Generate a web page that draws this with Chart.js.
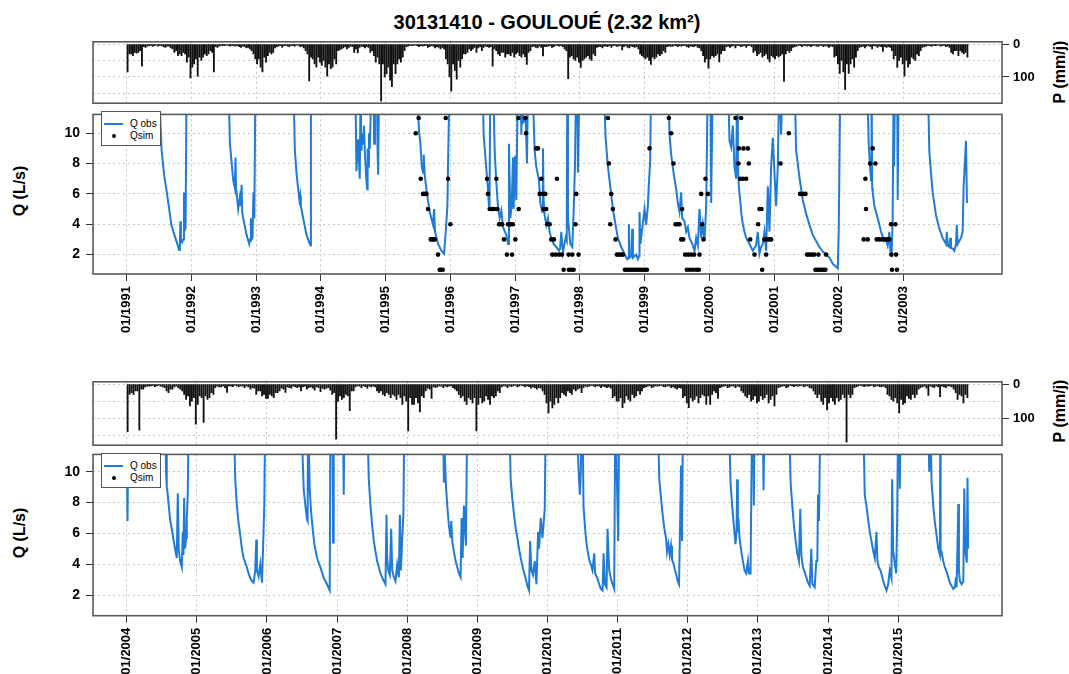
<!DOCTYPE html>
<html><head><meta charset="utf-8">
<script src="https://cdn.jsdelivr.net/npm/chart.js@4/dist/chart.umd.min.js"></script>
<style>
html,body{margin:0;padding:0;background:#fff}
body{width:1069px;height:674px;position:relative;overflow:hidden;font-family:"Liberation Sans",Arial,sans-serif}
canvas{position:absolute;left:0}
.tt{position:absolute;font-weight:bold;white-space:nowrap;color:#000}
.rot{transform:translate(-50%,-50%) rotate(-90deg)}
.legend{position:absolute;width:58px;height:33px;border:1.5px solid #555;background:#fff;font-size:10px;z-index:5}
.legend .ln{position:absolute;left:2px;top:11px;width:19px;height:1.5px;background:#1f7bd6}
.legend .dot{position:absolute;left:10px;top:22px;width:4px;height:4px;border-radius:50%;background:#000}
.legend .l1{position:absolute;left:28px;top:6px;line-height:12px}
.legend .l2{position:absolute;left:28px;top:18px;line-height:12px}
</style></head>
<body>
<div class="tt" style="left:547px;top:22px;transform:translate(-50%,-50%);font-size:20px">30131410 - GOULOUÉ (2.32 km²)</div>
<div class="tt rot" style="left:20px;top:191px;font-size:16px">Q (L/s)</div>
<div class="tt rot" style="left:20px;top:533px;font-size:16px">Q (L/s)</div>
<div class="tt rot" style="left:1060px;top:72px;font-size:16px">P (mm/j)</div>
<div class="tt rot" style="left:1060px;top:411px;font-size:16px">P (mm/j)</div>
<div class="legend" style="left:101px;top:111px"><div class="ln"></div><div class="l1">Q obs</div><div class="dot"></div><div class="l2">Qsim</div></div>
<div class="legend" style="left:101px;top:453px"><div class="ln"></div><div class="l1">Q obs</div><div class="dot"></div><div class="l2">Qsim</div></div>
<canvas id="p1" width="1069" height="85" style="top:30px"></canvas>
<canvas id="q1" width="1069" height="250" style="top:100px"></canvas>
<canvas id="p2" width="1069" height="87" style="top:370px"></canvas>
<canvas id="q2" width="1069" height="234" style="top:440px"></canvas>
<script>
// ---------- DATA ----------
const topTickYears = [1991,1992,1993,1994,1995,1996,1997,1998,1999,2000,2001,2002,2003];
const bottomTickYears = [2004,2005,2006,2007,2008,2009,2010,2011,2012,2013,2014,2015];
const pTicks = [0, 100];
const qTicks = [2, 4, 6, 8, 10];

// precipitation (mm/j), three values per month (peak of each ten-day period), from Jan 1991
const precipTop = [
 85,30,30, 35,25,28, 25,20,67, 8,10,6, 5,4,7, 5,3,6, 4,5,8, 10,6,6, 12,15,25, 20,35,30, 35,25,30, 55,40,103,
 70,60,45, 98,40,50, 40,30,35, 30,20,25, 85,8,10, 6,4,5, 5,3,4, 6,4,5, 6,5,8, 10,6,8, 12,10,15, 20,30,45,
 60,45,70, 85,40,55, 35,25,30, 25,12,8, 6,5,10, 5,4,6, 8,4,5, 6,3,4, 8,6,12, 20,30,112, 40,45,60, 70,40,55,
 65,50,70, 98,60,75, 70,45,60, 20,18,15, 12,8,15, 10,6,8, 25,15,27, 10,6,8, 12,8,10, 25,20,35, 55,40,60, 174,60,100,
 90,70,110, 130,60,90, 60,45,55, 40,20,8, 6,4,5, 4,3,5, 8,5,6, 5,4,10, 8,5,6, 12,8,10, 15,10,15, 45,60,100,
 143,60,80, 107,50,70, 45,30,30, 25,15,20, 15,10,25, 12,8,20, 10,6,8, 10,8,67, 15,20,30, 35,25,25, 40,30,30, 35,25,40,
 30,25,35, 40,30,38, 62,25,20, 8,6,10, 12,6,10, 36,8,8, 6,5,10, 8,4,5, 6,5,8, 15,20,105, 40,35,45, 50,40,55,
 71,50,45, 40,35,45, 50,30,35, 10,8,8, 12,6,6, 8,5,10, 5,4,7, 6,5,18, 8,5,10, 12,6,8, 10,8,15, 30,35,40,
 45,40,50, 62,40,45, 40,30,35, 30,20,25, 8,6,6, 7,4,5, 8,5,6, 5,4,8, 10,6,7, 8,5,10, 12,20,35, 55,45,73,
 45,35,40, 35,30,54, 30,20,20, 8,6,10, 6,5,12, 5,4,8, 6,5,10, 5,4,8, 25,20,35, 30,25,40, 35,30,45, 54,35,40,
 45,35,40, 35,30,114, 30,20,25, 20,10,8, 6,4,5, 8,4,5, 6,5,8, 5,4,6, 7,4,5, 8,5,6, 10,6,8, 40,35,60,
 89,50,85, 139,60,89, 60,45,70, 40,20,10, 8,6,12, 6,5,8, 15,5,6, 10,6,8, 22,8,10, 8,10,20, 45,35,71, 50,40,60,
 98,50,70, 60,40,45, 50,30,35, 20,10,8, 6,4,5, 7,4,5, 4,3,6, 5,4,8, 6,10,25, 30,20,20, 35,20,25, 30,25,40
];
// from Jan 2004
const precipBottom = [
 140,30,25, 30,20,20, 136,15,15, 8,6,6, 5,4,7, 5,4,6, 8,10,20, 25,15,15, 8,6,10, 15,20,30, 45,35,64, 50,40,118,
 60,35,40, 113,35,45, 40,25,30, 10,6,8, 8,5,10, 24,5,6, 7,4,5, 8,5,6, 10,6,8, 15,10,12, 30,20,20, 35,30,42,
 42,30,35, 40,25,25, 20,12,15, 24,8,10, 12,6,8, 10,8,20, 8,6,15, 10,8,12, 18,8,10, 22,12,15, 12,10,18, 30,25,162,
 50,35,45, 40,30,35, 78,20,20, 8,5,6, 10,5,7, 12,6,8, 6,8,20, 25,20,30, 35,25,30, 40,30,35, 45,30,40, 60,35,50,
 138,40,60, 60,40,55, 82,35,40, 20,12,15, 42,8,10, 8,5,6, 10,6,8, 6,5,10, 15,20,30, 40,35,50, 60,40,45, 55,40,138,
 60,40,55, 50,35,45, 60,35,40, 35,20,25, 8,5,6, 10,5,7, 5,4,8, 6,4,5, 8,5,7, 12,8,10, 15,10,12, 20,30,55,
 85,50,70, 60,40,55, 40,25,30, 35,20,25, 30,15,20, 15,12,25, 10,6,8, 6,4,5, 8,5,6, 10,6,8, 10,8,12, 40,35,50,
 50,40,69, 55,35,45, 50,30,40, 35,20,30, 20,10,8, 6,5,10, 8,5,6, 5,4,7, 8,5,6, 10,8,12, 15,10,12, 40,35,55,
 69,40,50, 45,35,55, 40,30,35, 60,35,60, 30,20,25, 42,10,8, 6,5,10, 8,5,6, 10,6,8, 20,25,35, 40,30,50, 45,35,55,
 50,35,45, 40,30,55, 45,35,64, 30,10,8, 6,5,10, 8,4,5, 7,5,6, 5,4,8, 6,5,10, 12,20,30, 40,30,50, 60,40,76,
 55,40,50, 60,40,50, 45,30,40, 171,30,40, 30,10,8, 6,4,5, 7,5,6, 5,4,8, 6,5,7, 8,6,10, 30,35,45, 50,40,55,
 85,45,60, 55,35,42, 45,30,40, 30,15,10, 8,6,12, 33,6,8, 10,5,8, 37,6,8, 10,5,6, 8,15,25, 45,30,35, 55,30,40
];

// observed discharge [decimal year, L/s]; values above the axis top are off-chart floods
const qObsTop = [
 [1991.00,14],[1991.49,14],[1991.54,8.85],[1991.58,7.2],[1991.62,6.1],[1991.66,4.9],[1991.69,3.96],[1991.73,3.4],[1991.76,3.0],[1991.79,2.6],[1991.81,2.3],[1991.822,2.6],[1991.83,4.2],[1991.838,2.9],[1991.855,2.8],[1991.872,3.0],[1991.885,6.1],[1991.895,3.6],[1991.91,3.8],[1991.926,14],
 [1992.569,14],[1992.595,9.3],[1992.646,6.9],[1992.67,6.4],[1992.682,8.4],[1992.69,6.2],[1992.698,6.1],[1992.723,5.0],[1992.749,5.8],[1992.765,5.2],[1992.775,6.6],[1992.785,4.8],[1992.80,4.4],[1992.852,3.3],[1992.893,2.7],[1992.905,3.0],[1992.919,4.4],[1992.93,3.0],[1992.944,3.1],[1992.958,6.1],[1992.972,4.4],[1992.99,14],
 [1993.572,14],[1993.598,8.85],[1993.625,7.3],[1993.649,6.3],[1993.668,5.6],[1993.68,5.9],[1993.69,5.2],[1993.726,4.4],[1993.778,3.3],[1993.829,2.7],[1993.842,2.6],[1993.846,14],
 [1994.53,14],[1994.549,7.5],[1994.575,9.6],[1994.60,7.0],[1994.613,13],[1994.627,8.85],[1994.64,10],[1994.652,9.3],[1994.665,10.5],[1994.678,8.85],[1994.70,7.0],[1994.714,6.3],[1994.722,9.0],[1994.729,7.8],[1994.742,10],[1994.755,8.96],[1994.78,13],[1994.815,13],[1994.822,9.3],[1994.835,13],[1994.865,13],[1994.875,9.0],[1994.884,7.26],[1994.90,14],
 [1995.475,14],[1995.516,10.1],[1995.537,9.3],[1995.558,7.8],[1995.578,7.4],[1995.588,8.6],[1995.604,7.2],[1995.63,6.3],[1995.68,4.8],[1995.732,3.96],[1995.748,5.0],[1995.763,3.5],[1995.81,2.7],[1995.86,2.25],[1995.902,2.05],[1995.928,3.5],[1995.954,5.2],[1995.964,8.0],[1995.99,14],
 [1996.494,14],[1996.514,9.9],[1996.545,8.2],[1996.566,7.1],[1996.581,6.3],[1996.597,5.0],[1996.605,5.5],[1996.617,14],[1996.658,14],[1996.684,8.85],[1996.71,6.7],[1996.735,5.2],[1996.761,4.4],[1996.787,4.9],[1996.813,3.8],[1996.864,3.3],[1996.89,2.7],[1996.905,9.3],[1996.926,4.4],[1996.946,5.2],[1996.967,8.4],[1996.977,5.0],[1996.998,8.5],[1997.018,5.6],[1997.044,14],[1997.08,14],[1997.096,9.9],[1997.11,14],[1997.121,10.7],[1997.163,10.9],[1997.183,8.0],[1997.2,14],
 [1997.265,14],[1997.301,8.85],[1997.327,7.8],[1997.368,6.9],[1997.389,5.4],[1997.42,4.8],[1997.43,9.0],[1997.44,5.6],[1997.456,4.6],[1997.482,3.96],[1997.507,4.4],[1997.533,3.5],[1997.558,3.1],[1997.594,2.7],[1997.636,2.5],[1997.677,2.25],[1997.695,2.4],[1997.713,3.5],[1997.739,2.15],[1997.78,3.1],[1997.797,2.9],[1997.806,14],[1997.816,4.4],[1997.852,2.7],[1997.883,2.5],[1997.903,4.8],[1997.924,7.8],[1997.944,14],[1997.96,14],[1997.97,7.4],[1997.996,14],
 [1998.366,14],[1998.397,9.7],[1998.433,7.8],[1998.469,6.5],[1998.51,5.0],[1998.551,3.96],[1998.587,3.1],[1998.639,2.5],[1998.69,2.04],[1998.731,1.7],[1998.75,1.8],[1998.757,4.0],[1998.77,1.8],[1998.8,1.9],[1998.808,3.7],[1998.82,1.8],[1998.87,2.0],[1998.896,1.7],[1998.915,1.9],[1998.921,4.8],[1998.935,2.7],[1998.999,5.0],[1999.024,3.96],[1999.05,5.2],[1999.066,6.7],[1999.086,8.2],[1999.102,14],
 [1999.359,14],[1999.385,9.9],[1999.41,8.6],[1999.446,7.4],[1999.488,6.3],[1999.513,5.4],[1999.539,4.8],[1999.565,6.1],[1999.58,4.4],[1999.616,4.2],[1999.642,3.5],[1999.668,3.8],[1999.693,3.1],[1999.735,2.7],[1999.771,2.25],[1999.796,3.1],[1999.822,2.6],[1999.848,5.0],[1999.874,3.1],[1999.899,4.0],[1999.925,2.9],[1999.951,5.2],[1999.977,14],[2000.02,12],[2000.028,5.4],[2000.054,14],
 [2000.285,14],[2000.311,9.5],[2000.337,9.1],[2000.362,10.5],[2000.388,7.8],[2000.414,7.0],[2000.43,14],[2000.44,8.0],[2000.455,6.5],[2000.476,5.6],[2000.491,4.8],[2000.517,4.0],[2000.542,3.5],[2000.568,3.1],[2000.62,2.7],[2000.671,2.25],[2000.722,2.6],[2000.748,3.5],[2000.774,2.05],[2000.799,2.5],[2000.825,2.7],[2000.851,3.5],[2000.877,2.25],[2000.903,6.5],[2000.928,3.5],[2000.954,7.8],[2000.98,9.7],[2001.005,7.4],[2001.031,5.2],[2001.057,7.8],[2001.082,14],[2001.108,9.9],[2001.134,14],
 [2001.314,14],[2001.34,8.85],[2001.391,7.1],[2001.443,5.6],[2001.494,4.7],[2001.546,3.96],[2001.597,3.3],[2001.648,2.9],[2001.7,2.5],[2001.751,2.2],[2001.803,2.0],[2001.854,1.8],[2001.906,1.4],[2001.957,1.2],[2001.983,1.1],[2001.998,3.5],[2002.009,7.8],[2002.024,14],
 [2002.435,14],[2002.461,9.3],[2002.482,7.8],[2002.497,6.9],[2002.505,14],[2002.515,6.4],[2002.523,6.1],[2002.549,5.2],[2002.574,4.8],[2002.6,4.4],[2002.626,3.96],[2002.651,3.5],[2002.677,3.2],[2002.703,2.9],[2002.728,3.0],[2002.754,2.6],[2002.78,3.5],[2002.795,2.25],[2002.816,2.04],[2002.831,4.4],[2002.847,14],[2002.852,7.8],[2002.87,14],[2002.9,14],[2002.909,5.6],[2002.924,14],
 [2003.372,14],[2003.397,8.85],[2003.423,7.4],[2003.449,6.1],[2003.5,4.6],[2003.552,3.7],[2003.603,3.1],[2003.655,2.7],[2003.668,3.5],[2003.68,2.6],[2003.706,2.5],[2003.72,3.1],[2003.732,2.45],[2003.758,2.4],[2003.783,2.25],[2003.809,2.7],[2003.822,3.96],[2003.835,2.7],[2003.86,2.9],[2003.886,3.1],[2003.912,3.5],[2003.927,6.5],[2003.948,8.2],[2003.963,9.5],[2003.979,5.4]
];
const qObsBottom = [
 [2004.0,12],[2004.012,6.8],[2004.025,14],
 [2004.548,14],[2004.562,10.0],[2004.568,11.5],[2004.575,9.0],[2004.581,8.7],[2004.6,7.8],[2004.619,6.9],[2004.643,6.3],[2004.667,5.6],[2004.69,5.0],[2004.714,4.4],[2004.729,8.6],[2004.743,5.0],[2004.762,4.2],[2004.786,3.8],[2004.8,6.1],[2004.81,4.6],[2004.819,8.3],[2004.833,5.0],[2004.848,5.7],[2004.857,6.9],[2004.871,8.6],[2004.886,14],
 [2005.524,14],[2005.548,9.5],[2005.571,7.8],[2005.595,6.7],[2005.619,5.9],[2005.643,5.0],[2005.667,4.4],[2005.714,3.8],[2005.738,3.4],[2005.762,3.1],[2005.786,2.9],[2005.81,2.8],[2005.833,3.6],[2005.848,5.6],[2005.857,3.6],[2005.881,3.2],[2005.905,4.0],[2005.929,2.8],[2005.943,4.8],[2005.962,7.8],[2005.976,14],
 [2006.486,14],[2006.524,8.85],[2006.548,7.8],[2006.571,6.9],[2006.58,6.8],[2006.586,14],[2006.595,14],[2006.61,8.85],[2006.629,7.4],[2006.657,6.1],[2006.676,5.3],[2006.714,4.4],[2006.762,3.8],[2006.81,3.1],[2006.857,2.7],[2006.895,2.3],[2006.905,14],[2006.935,12],[2006.943,5.4],[2006.952,14],[2007.085,13],[2007.095,8.5],[2007.105,14],
 [2007.429,14],[2007.452,9.5],[2007.476,7.8],[2007.5,6.5],[2007.524,5.5],[2007.548,4.8],[2007.571,4.2],[2007.595,3.8],[2007.619,3.4],[2007.643,3.15],[2007.667,2.9],[2007.69,2.7],[2007.705,7.2],[2007.714,4.4],[2007.729,3.6],[2007.752,3.3],[2007.771,6.3],[2007.786,3.6],[2007.81,3.15],[2007.833,2.9],[2007.857,3.96],[2007.881,3.15],[2007.895,7.2],[2007.91,3.6],[2007.93,5.8],[2007.945,7.2],[2007.96,14],
 [2008.509,14],[2008.523,9.3],[2008.53,11.5],[2008.537,11.0],[2008.552,9.1],[2008.571,7.8],[2008.594,6.5],[2008.618,5.7],[2008.628,6.8],[2008.642,5.5],[2008.666,4.8],[2008.69,4.2],[2008.714,3.8],[2008.737,3.4],[2008.761,3.15],[2008.775,7.0],[2008.79,4.4],[2008.809,7.8],[2008.823,6.5],[2008.837,5.2],[2008.856,14],
 [2009.452,14],[2009.475,9.5],[2009.499,8.2],[2009.523,7.2],[2009.547,6.3],[2009.571,5.7],[2009.594,5.0],[2009.618,4.4],[2009.642,3.9],[2009.666,3.45],[2009.69,3.05],[2009.713,2.6],[2009.737,2.3],[2009.752,5.5],[2009.771,3.6],[2009.794,3.3],[2009.818,4.2],[2009.842,2.7],[2009.866,6.1],[2009.88,5.0],[2009.904,7.0],[2009.928,5.7],[2009.961,7.6],[2009.975,14],
 [2010.414,14],[2010.442,10.2],[2010.461,8.5],[2010.475,10.0],[2010.49,14],[2010.5,14],[2010.513,7.8],[2010.533,6.5],[2010.552,5.5],[2010.571,4.9],[2010.594,4.3],[2010.618,4.0],[2010.642,3.6],[2010.666,4.7],[2010.68,3.4],[2010.713,3.05],[2010.737,2.7],[2010.761,2.4],[2010.785,2.3],[2010.8,4.7],[2010.818,2.7],[2010.842,2.5],[2010.856,6.3],[2010.88,3.6],[2010.904,3.05],[2010.928,2.7],[2010.951,2.4],[2010.966,14],[2010.99,9.3],[2011.008,5.5],[2011.023,14],
 [2011.571,14],[2011.594,9.5],[2011.618,8.3],[2011.642,7.2],[2011.666,6.3],[2011.69,5.7],[2011.704,4.8],[2011.723,5.3],[2011.742,4.6],[2011.761,5.2],[2011.775,4.3],[2011.799,4.0],[2011.818,3.6],[2011.837,3.3],[2011.856,2.9],[2011.875,2.7],[2011.89,6.5],[2011.904,10.4],[2011.918,5.5],[2011.932,14],
 [2012.585,14],[2012.609,9.3],[2012.633,7.8],[2012.657,6.5],[2012.68,5.3],[2012.695,6.1],[2012.704,9.5],[2012.714,6.1],[2012.728,6.5],[2012.738,5.7],[2012.761,4.9],[2012.785,4.2],[2012.809,3.6],[2012.833,3.4],[2012.857,4.2],[2012.871,3.4],[2012.895,3.4],[2012.904,7.8],[2012.919,14],[2012.935,12],[2012.942,7.8],[2012.952,14],[2013.07,13],[2013.08,8.8],[2013.095,14],
 [2013.442,14],[2013.466,9.3],[2013.49,7.8],[2013.514,6.5],[2013.538,5.5],[2013.561,4.7],[2013.585,4.2],[2013.604,7.6],[2013.619,4.6],[2013.642,3.8],[2013.666,3.5],[2013.69,3.15],[2013.714,2.8],[2013.738,2.6],[2013.761,5.0],[2013.776,2.7],[2013.809,2.5],[2013.833,4.2],[2013.847,4.2],[2013.857,8.5],[2013.871,6.8],[2013.89,14],
 [2014.5,14],[2014.523,8.5],[2014.547,7.8],[2014.571,6.9],[2014.595,6.1],[2014.619,5.5],[2014.642,4.9],[2014.666,4.4],[2014.69,6.1],[2014.704,4.2],[2014.723,3.8],[2014.747,3.6],[2014.771,3.2],[2014.8,2.7],[2014.833,2.3],[2014.857,2.7],[2014.88,3.6],[2014.904,3.1],[2014.914,9.5],[2014.928,4.9],[2014.952,4.0],[2014.971,3.4],[2014.985,6.8],[2015.0,14],[2015.015,13],[2015.023,8.9],[2015.037,14],
 [2015.428,14],[2015.442,10.0],[2015.457,14],[2015.476,9.3],[2015.5,7.8],[2015.523,6.7],[2015.547,5.9],[2015.571,5.0],[2015.595,4.6],[2015.6,14],[2015.605,4.9],[2015.618,4.8],[2015.642,4.2],[2015.666,3.8],[2015.69,3.5],[2015.714,3.15],[2015.737,2.8],[2015.761,2.6],[2015.785,2.4],[2015.809,2.5],[2015.823,3.15],[2015.833,2.5],[2015.857,7.9],[2015.866,3.6],[2015.88,2.9],[2015.904,2.7],[2015.928,2.9],[2015.942,8.9],[2015.955,4.9],[2015.968,4.5],[2015.978,4.1],[2015.988,9.6],[2015.997,5.0]
];
// simulated discharge (rounded, L/s)
const qSimTop = [
 [1995.465,10],[1995.51,11],[1995.542,7],[1995.578,6],[1995.604,6],[1995.63,6],[1995.655,5],[1995.697,3],[1995.717,3],[1995.737,3],[1995.758,3],[1995.81,2],[1995.835,1],[1995.858,1],[1995.882,1],[1995.928,11],[1995.964,7],[1996.0,4],
 [1996.566,7],[1996.581,6],[1996.607,5],[1996.63,5],[1996.653,5],[1996.676,5],[1996.71,7],[1996.725,5],[1996.751,4],[1996.775,4],[1996.8,4],[1996.828,3],[1996.874,2],[1996.89,4],[1996.915,4],[1996.935,4],[1996.952,2],[1996.965,4],[1997.003,3],[1997.05,11],[1997.055,5],[1997.158,11],[1997.168,10],
 [1997.327,9],[1997.353,9],[1997.379,6],[1997.404,7],[1997.43,6],[1997.44,5],[1997.466,6],[1997.48,5],[1997.497,4],[1997.533,4],[1997.558,3],[1997.574,2],[1997.6,3],[1997.625,2],[1997.646,7],[1997.677,2],[1997.723,2],[1997.749,1],[1997.826,2],[1997.831,1],[1997.867,1],[1997.883,2],[1997.903,1],[1997.934,4],[1997.944,6],[1997.98,2],
 [1998.433,11],[1998.448,8],[1998.469,4],[1998.484,6],[1998.51,5],[1998.551,3],[1998.572,2],[1998.603,2],[1998.634,2],[1998.665,2],[1998.695,1],[1998.726,1],[1998.757,1],[1998.788,1],[1998.819,1],[1998.85,1],[1998.88,1],[1998.912,1],[1998.943,1],[1998.973,1],[1999.004,1],[1999.035,1],[1999.076,9],
 [1999.374,11],[1999.41,10],[1999.446,8],[1999.477,4],[1999.508,4],[1999.539,4],[1999.565,3],[1999.58,5],[1999.596,3],[1999.626,2],[1999.652,1],[1999.673,2],[1999.698,1],[1999.72,2],[1999.745,1],[1999.765,2],[1999.796,1],[1999.837,1],[1999.848,2],[1999.874,6],[1999.889,4],[1999.909,3],[1999.94,7],[1999.977,6],
 [2000.404,11],[2000.45,8],[2000.455,9],[2000.476,7],[2000.491,11],[2000.517,7],[2000.527,9],[2000.568,7],[2000.594,9],[2000.609,8],[2000.63,3],[2000.697,2],[2000.753,4],[2000.774,5],[2000.805,5],[2000.815,1],[2000.851,3],[2000.877,2],[2000.887,3],[2000.923,3],[2000.954,3],[2001.098,8],[2001.227,10],
 [2001.401,6],[2001.443,6],[2001.484,6],[2001.51,2],[2001.546,2],[2001.582,2],[2001.618,2],[2001.638,1],[2001.669,1],[2001.684,2],[2001.7,1],[2001.731,1],[2001.762,1],[2001.792,1],[2001.803,2],
 [2002.384,3],[2002.41,7],[2002.42,5],[2002.446,3],[2002.482,8],[2002.523,9],[2002.564,8],[2002.585,3],[2002.626,3],[2002.667,3],[2002.708,3],[2002.749,3],[2002.78,3],[2002.806,4],[2002.811,2],[2002.821,1],[2002.873,4],[2002.883,2],[2002.898,1]
];
const qSimBottom = [];

// ---------- DRAWING ----------
Chart.defaults.font.family = '"Liberation Sans", Arial, sans-serif';
Chart.defaults.color = '#000';
const BLUE = '#1f7bd6';
const GRID = '#c4c4c4';
const frame = { id:'frame', afterDraw(c){ const a=c.chartArea, x=c.ctx; x.save(); x.strokeStyle='#5a5a5a'; x.lineWidth=1.6; x.strokeRect(a.left,a.top,a.right-a.left,a.bottom-a.top); x.restore(); } };
const tickFont = {size:13, weight:'bold'};
const gridBorder = {display:false, dash:[2,3]};

function precipChart(id, values, startYear, xMin, xMax, years, padTop, padBottom){
  const data = values.map((v,i)=>({x: startYear + (i+0.5)/36, y: v}));
  new Chart(document.getElementById(id), {
    type:'bar',
    data:{datasets:[{data, backgroundColor:'#111', borderWidth:0, barThickness:1.2, grouped:false}]},
    options:{
      animation:false, responsive:false, events:[],
      layout:{padding:{left:93,right:0,top:padTop,bottom:padBottom}},
      plugins:{legend:{display:false}, tooltip:{enabled:false}},
      scales:{
        x:{type:'linear', min:xMin, max:xMax, offset:false,
           afterBuildTicks:s=>{s.ticks=years.map(v=>({value:v}));},
           afterFit:s=>{s.height=0;},
           ticks:{display:false}, border:gridBorder,
           grid:{offset:false, color:GRID, drawTicks:false}},
        y:{position:'right', reverse:true, min:-7, max:180,
           afterBuildTicks:s=>{s.ticks=[0,50,100,150].map(v=>({value:v}));},
           afterFit:s=>{s.width=67;},
           border:gridBorder,
           grid:{color:GRID, tickLength:7, tickBorderDash:[], tickWidth:1,
                 tickColor:c=> (c.tick && pTicks.includes(c.tick.value)) ? '#333' : 'rgba(0,0,0,0)'},
           ticks:{padding:4, font:tickFont, callback:v=> pTicks.includes(v) ? String(v) : ''}}
      }
    },
    plugins:[frame]
  });
}

function qChart(id, obs, sim, xMin, xMax, years, yMin, yMax, padTop, xAxisH){
  new Chart(document.getElementById(id), {
    type:'line',
    data:{datasets:[
      {data: sim.map(([x,y])=>({x,y})), showLine:false, pointRadius:2.3, pointBackgroundColor:'#000', pointBorderWidth:0, clip:0},
      {data: obs.map(([x,y])=>({x,y})), borderColor:BLUE, borderWidth:2, pointRadius:0, tension:0, fill:false, clip:0}
    ]},
    options:{
      animation:false, responsive:false, events:[],
      layout:{padding:{left:0,right:67,top:padTop,bottom:0}},
      plugins:{legend:{display:false}, tooltip:{enabled:false}},
      scales:{
        x:{type:'linear', min:xMin, max:xMax,
           afterBuildTicks:s=>{s.ticks=years.map(v=>({value:v}));},
           afterFit:s=>{s.height=xAxisH;},
           border:gridBorder,
           grid:{color:GRID, tickLength:7, tickColor:'#333', tickBorderDash:[], tickWidth:1},
           ticks:{autoSkip:false, minRotation:90, maxRotation:90, padding:5, font:tickFont, callback:v=>'01/'+v}},
        y:{min:yMin, max:yMax,
           afterBuildTicks:s=>{s.ticks=qTicks.map(v=>({value:v}));},
           afterFit:s=>{s.width=93;},
           border:gridBorder,
           grid:{color:GRID, tickLength:7, tickColor:'#333', tickBorderDash:[], tickWidth:1},
           ticks:{padding:6, font:{size:14, weight:'bold'}}}
      }
    },
    plugins:[frame]
  });
}

precipChart('p1', precipTop, 1991, 1990.48, 2004.52, topTickYears, 7.3, 7.7);
qChart('q1', qObsTop, qSimTop, 1990.48, 2004.52, topTickYears, 0.72, 11.24, 10, 76);
precipChart('p2', precipBottom, 2004, 2003.52, 2016.48, bottomTickYears, 8.3, 8);
qChart('q2', qObsBottom, qSimBottom, 2003.52, 2016.48, bottomTickYears, 0.66, 11.12, 11.7, 58.3);
</script>
</body></html>
